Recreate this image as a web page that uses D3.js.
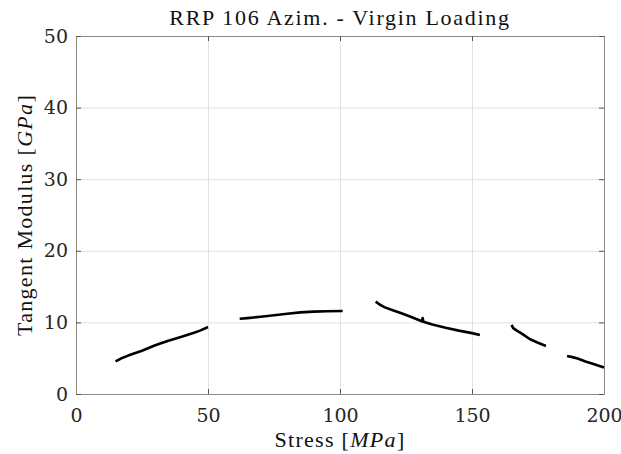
<!DOCTYPE html>
<html>
<head>
<meta charset="utf-8">
<script src="https://cdn.jsdelivr.net/npm/d3@7"></script>
<style>
  body { margin: 0; background: #fff; }
  svg { display: block; }
  .tick text { font-family: "DejaVu Serif", serif; font-size: 19px; fill: #262626; }
  .grid line { stroke: #e2e2e2; stroke-width: 1; }
  .grid path { display: none; }
  .frame path { stroke: #8a8a8a; stroke-width: 1; }
  .frame line { stroke: #555; stroke-width: 1; }
  .lbl { font-family: "Liberation Serif", serif; font-size: 22px; fill: #111; letter-spacing: 1.3px; }
  .title { letter-spacing: 1.7px; }
</style>
</head>
<body>
<div id="chart"></div>
<script>
// data, one array per curve segment [stress MPa, modulus GPa]
var seg1 = [[15,4.55],[17,4.95],[20,5.4],[25,6.05],[30,6.8],[35,7.45],[40,8.0],[45,8.6],[47,8.85],[50,9.35]];
var seg2 = [[62,10.5],[65,10.6],[70,10.8],[75,11.0],[80,11.2],[85,11.4],[90,11.5],[95,11.55],[101,11.6]];
var seg3 = [[113.5,12.9],[115,12.5],[117,12.1],[120,11.7],[123,11.3],[127,10.75],[131,10.15],[131.3,10.6],[131.6,10.1],[135,9.7],[140,9.25],[145,8.85],[150,8.5],[153,8.25]];
var seg4 = [[165,9.65],[165.6,9.2],[167,8.85],[169,8.4],[172,7.65],[175,7.15],[178,6.7]];
var seg5 = [[186,5.3],[188,5.15],[190,4.95],[193,4.55],[196,4.2],[200,3.7]];
var segments = [seg1, seg2, seg3, seg4, seg5];

var xTicks = [0, 50, 100, 150, 200];
var yTicks = [0, 10, 20, 30, 40, 50];
var titleText = "RRP 106 Azim. - Virgin Loading";

var W = 621, H = 454;
var margin = {top: 36, right: 17, bottom: 60, left: 76};
var width = W - margin.left - margin.right;   // 528
var height = H - margin.top - margin.bottom;  // 358

var x = d3.scaleLinear().domain([0, 200]).range([0, width]);
var y = d3.scaleLinear().domain([0, 50]).range([height, 0]);

var svg = d3.select("#chart").append("svg")
    .attr("width", W)
    .attr("height", H)
  .append("g")
    .attr("transform", "translate(" + margin.left + "," + margin.top + ")");

// grid
svg.append("g")
    .attr("class", "grid")
    .attr("transform", "translate(0," + height + ")")
    .call(d3.axisBottom(x).tickValues(xTicks).tickSize(-height).tickFormat(""));
svg.append("g")
    .attr("class", "grid")
    .call(d3.axisLeft(y).tickValues(yTicks).tickSize(-width).tickFormat(""));

// box with inward ticks on all four sides
var bottom = svg.append("g")
    .attr("class", "frame")
    .attr("transform", "translate(0," + height + ")")
    .call(d3.axisBottom(x).tickValues(xTicks).tickSizeInner(-5).tickSizeOuter(0).tickPadding(15));
bottom.selectAll(".tick text").attr("dy", "0.71em");

svg.append("g")
    .attr("class", "frame")
    .call(d3.axisTop(x).tickValues(xTicks).tickSizeInner(-5).tickSizeOuter(0).tickFormat(""));

svg.append("g")
    .attr("class", "frame")
    .call(d3.axisLeft(y).tickValues(yTicks).tickSizeInner(-5).tickSizeOuter(0).tickPadding(8));

svg.append("g")
    .attr("class", "frame")
    .attr("transform", "translate(" + width + ",0)")
    .call(d3.axisRight(y).tickValues(yTicks).tickSizeInner(-5).tickSizeOuter(0).tickFormat(""));

// curves
var line = d3.line()
    .x(function(d) { return x(d[0]); })
    .y(function(d) { return y(d[1]); });

svg.selectAll(".seg")
    .data(segments)
    .enter().append("path")
    .attr("class", "seg")
    .attr("fill", "none")
    .attr("stroke", "#000")
    .attr("stroke-width", 2.6)
    .attr("stroke-linejoin", "round")
    .attr("d", line);

// labels
svg.append("text")
    .attr("class", "lbl title")
    .attr("x", width / 2)
    .attr("y", -11)
    .attr("text-anchor", "middle")
    .text(titleText);

var xl = svg.append("text")
    .attr("class", "lbl")
    .attr("x", width / 2)
    .attr("y", height + 53)
    .attr("text-anchor", "middle");
xl.append("tspan").text("Stress [");
xl.append("tspan").style("font-style", "italic").text("MPa");
xl.append("tspan").text("]");

var yl = svg.append("text")
    .attr("class", "lbl")
    .attr("transform", "translate(" + (32 - margin.left) + "," + (height / 2) + ") rotate(-90)")
    .attr("text-anchor", "middle");
yl.append("tspan").text("Tangent Modulus [");
yl.append("tspan").style("font-style", "italic").text("GPa");
yl.append("tspan").text("]");
</script>
</body>
</html>
